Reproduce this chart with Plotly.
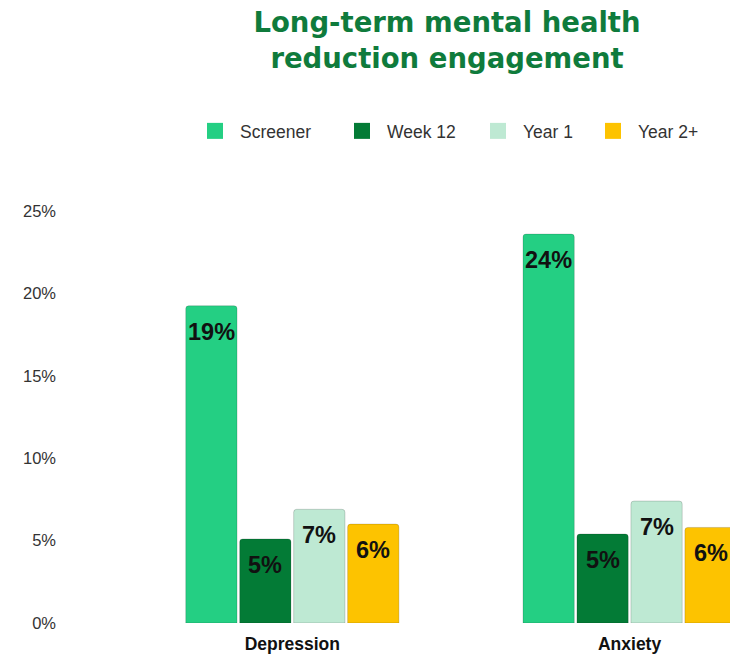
import plotly.graph_objects as go

# Chart data
categories = ["Depression", "Anxiety"]
series_names = ["Screener", "Week 12", "Year 1", "Year 2+"]
screener = [19.25, 23.6]
week_12 = [5.1, 5.4]
year_1 = [6.9, 7.4]
year_2_plus = [6.0, 5.8]
y_ticks = [0, 5, 10, 15, 20, 25]
y_tick_labels = [f"{t}%" for t in y_ticks]

series_values = [screener, week_12, year_1, year_2_plus]
colors = ["#24CF83", "#037B36", "#BEE9D3", "#FDC300"]
# left edge (px) of each legend entry
legend_lefts = [190, 337, 473, 588]

W, H = 730, 656
BARGAP = 0.36
BARGROUPGAP = 0.05
x_pos = list(range(len(categories)))

fig = go.Figure()
legend_ids = ["legend", "legend2", "legend3", "legend4"]

for name, vals, col, lid in zip(series_names, series_values, colors, legend_ids):
    fig.add_trace(go.Bar(
        x=x_pos, y=vals, name=name, legendgroup=name, showlegend=False,
        marker=dict(color=col, cornerradius=3,
                    line=dict(color="rgba(0,0,0,0.16)", width=1)),
        hoverinfo="y",
    ))
    # larger square swatch for the legend entry
    fig.add_trace(go.Scatter(
        x=[None], y=[None], mode="markers", name=name, legendgroup=name,
        marker=dict(symbol="square", size=20, color=col),
        showlegend=True, legend=lid,
    ))

# value labels just inside the top of each bar
slot = (1 - BARGAP) / len(series_names)
annotations = []
for i, vals in enumerate(series_values):
    off = (i - (len(series_names) - 1) / 2) * slot
    for j, v in enumerate(vals):
        annotations.append(dict(
            x=x_pos[j] + off, y=v, xref="x", yref="y",
            text=f"{v:.0f}%", showarrow=False,
            yanchor="middle", yshift=-26,
            font=dict(family="Arial", size=23.5, color="#111111", weight="bold"),
        ))

plot_left = 57
scale = 337.5  # pixels per category
x_lo = -(292.5 - plot_left) / scale
x_hi = 1 + (W - 629.5) / scale

legend_common = dict(
    orientation="h", xref="container", yref="container",
    xanchor="left", y=1 - 131 / H, yanchor="middle",
    itemwidth=40, itemsizing="trace", itemclick=False, itemdoubleclick=False,
    font=dict(family="Arial", size=17.5, color="#333333"),
)
legends = {lid: dict(legend_common, x=lx / W) for lid, lx in zip(legend_ids, legend_lefts)}

fig.update_layout(
    width=W, height=H,
    margin=dict(l=plot_left, r=0, t=211, b=33),
    paper_bgcolor="white", plot_bgcolor="white",
    barmode="group", bargap=BARGAP, bargroupgap=BARGROUPGAP,
    title=dict(
        text="Long-term mental health<br>reduction engagement",
        x=447 / W, xanchor="center", xref="container",
        y=1 - 32 / H, yanchor="top", yref="container",
        font=dict(family="DejaVu Sans", size=27.5, color="#0F7B3C", weight="bold"),
    ),
    xaxis=dict(
        range=[x_lo, x_hi], tickvals=x_pos, ticktext=categories,
        showgrid=False, zeroline=False, showline=False, ticks="",
        ticklabelstandoff=8,
        tickfont=dict(family="Arial", size=17.5, color="#111111", weight="bold"),
        fixedrange=True,
    ),
    yaxis=dict(
        range=[0, 25], tickvals=y_ticks, ticktext=y_tick_labels,
        showgrid=False, zeroline=False, showline=False, ticks="",
        tickfont=dict(family="Arial", size=16.5, color="#333333"),
        fixedrange=True,
    ),
    annotations=annotations,
    showlegend=True,
    **legends,
)

fig.write_html("out.html", config={"displayModeBar": False})
